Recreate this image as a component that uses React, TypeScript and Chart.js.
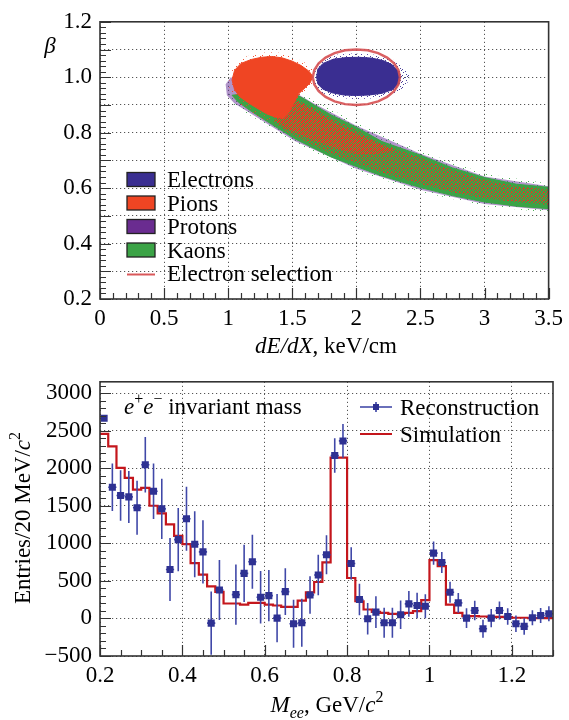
import React, { useEffect, useRef } from 'react';
import { Chart, registerables } from 'chart.js';

Chart.register(...registerables);

// ---------------- Top panel: beta vs dE/dX ----------------
const TOP_X_TICKS = [0, 0.5, 1, 1.5, 2, 2.5, 3, 3.5];
const TOP_X_LABELS = ['0', '0.5', '1', '1.5', '2', '2.5', '3', '3.5'];
const TOP_Y_TICKS = [0.2, 0.3, 0.4, 0.5, 0.6, 0.7, 0.8, 0.9, 1.0, 1.1, 1.2];
const TOP_Y_LABELS = ['0.2', '', '0.4', '', '0.6', '', '0.8', '', '1.0', '', '1.2'];

// outlines of the particle clouds (dE/dX, beta)
const ELECTRON_CORE = [
  [1.69, 1.0], [1.7, 1.03], [1.74, 1.05], [1.82, 1.065], [1.92, 1.071], [2.02, 1.072], [2.12, 1.069],
  [2.21, 1.06], [2.28, 1.045], [2.33, 1.02], [2.34, 1.0], [2.33, 0.975], [2.28, 0.955], [2.2, 0.942],
  [2.1, 0.936], [2.0, 0.934], [1.9, 0.936], [1.81, 0.944], [1.74, 0.957], [1.7, 0.975], [1.69, 1.0],
];
const ELECTRON_HALO = [
  [1.67, 1.0], [1.69, 1.045], [1.78, 1.078], [1.95, 1.086], [2.12, 1.083], [2.28, 1.065], [2.37, 1.035],
  [2.42, 1.005], [2.39, 0.97], [2.3, 0.94], [2.15, 0.924], [2.0, 0.921], [1.85, 0.926], [1.73, 0.943],
  [1.67, 0.97], [1.67, 1.0],
];
const PION_BLOB = [
  [1.03, 0.99], [1.05, 1.025], [1.1, 1.05], [1.18, 1.064], [1.26, 1.072], [1.34, 1.075], [1.42, 1.07],
  [1.5, 1.058], [1.57, 1.042], [1.63, 1.022], [1.66, 1.003], [1.64, 0.98], [1.6, 0.962], [1.55, 0.94],
  [1.51, 0.905], [1.47, 0.87], [1.43, 0.852], [1.37, 0.856], [1.3, 0.868], [1.22, 0.89], [1.15, 0.91],
  [1.09, 0.93], [1.05, 0.955], [1.03, 0.99],
];
const PION_HALO = [
  [1.01, 0.99], [1.04, 1.04], [1.12, 1.072], [1.25, 1.088], [1.38, 1.09], [1.5, 1.075], [1.6, 1.052],
  [1.68, 1.02], [1.69, 0.99], [1.62, 0.955], [1.5, 0.9], [1.3, 0.84], [1.1, 0.9], [1.01, 0.95], [1.01, 0.99],
];
const PION_BAND_CORE = [
  [1.4, 0.93], [1.55, 0.91], [1.7, 0.87], [1.85, 0.83], [2.0, 0.795], [2.15, 0.765], [2.3, 0.735],
  [2.15, 0.722], [2.0, 0.722], [1.85, 0.742], [1.65, 0.775], [1.45, 0.815], [1.38, 0.84], [1.4, 0.93],
];
const PION_BAND = [
  [1.4, 0.93], [1.55, 0.915], [1.67, 0.89], [1.8, 0.855], [2.0, 0.81], [2.2, 0.76], [2.5, 0.71],
  [2.75, 0.665], [3.0, 0.63], [3.25, 0.607], [3.5, 0.595], [3.5, 0.54], [3.25, 0.55], [3.0, 0.563],
  [2.75, 0.585], [2.5, 0.615], [2.2, 0.655], [2.0, 0.69], [1.8, 0.725], [1.6, 0.77], [1.45, 0.805],
  [1.35, 0.84], [1.4, 0.93],
];
const KAON_BAND = [
  [1.03, 0.935], [1.3, 0.95], [1.5, 0.945], [1.6, 0.92], [1.67, 0.9], [1.8, 0.865], [2.0, 0.82],
  [2.2, 0.768], [2.5, 0.719], [2.75, 0.673], [3.0, 0.638], [3.25, 0.614], [3.5, 0.603], [3.5, 0.526],
  [3.25, 0.535], [3.0, 0.55], [2.75, 0.573], [2.5, 0.602], [2.2, 0.644], [2.0, 0.678], [1.8, 0.713],
  [1.52, 0.778], [1.34, 0.83], [1.18, 0.877], [1.08, 0.91], [1.03, 0.935],
];
const KAON_HALO = [
  [1.0, 0.945], [1.3, 0.965], [1.52, 0.96], [1.68, 0.915], [2.0, 0.835], [2.5, 0.734], [3.0, 0.652],
  [3.5, 0.617], [3.5, 0.512], [3.0, 0.535], [2.5, 0.587], [2.0, 0.662], [1.52, 0.762], [1.18, 0.86],
  [1.05, 0.895], [1.0, 0.945],
];
const PROTON_BAND = [
  [0.98, 0.975], [1.02, 1.0], [1.3, 0.95], [1.5, 0.95], [1.67, 0.905], [2.0, 0.825], [2.5, 0.724],
  [3.0, 0.642], [3.5, 0.607], [3.5, 0.52], [3.0, 0.543], [2.5, 0.594], [2.0, 0.67], [1.52, 0.77],
  [1.18, 0.868], [1.05, 0.905], [0.99, 0.935], [0.98, 0.975],
];
const SELECTION_ELLIPSE = [
  [2.34, 1.0], [2.328, 1.026], [2.294, 1.05], [2.24, 1.071], [2.17, 1.087], [2.088, 1.097], [2.0, 1.1],
  [1.912, 1.097], [1.83, 1.087], [1.76, 1.071], [1.706, 1.05], [1.672, 1.026], [1.66, 1.0],
  [1.672, 0.974], [1.706, 0.95], [1.76, 0.929], [1.83, 0.913], [1.912, 0.903], [2.0, 0.9],
  [2.088, 0.903], [2.17, 0.913], [2.24, 0.929], [2.294, 0.95], [2.328, 0.974], [2.34, 1.0],
];
const TOP_LEGEND = ['Electrons', 'Pions', 'Protons', 'Kaons', 'Electron selection'];
const TOP_LEGEND_COLORS = ['#3a2e91', '#ef4523', '#6a2c90', '#3ba346', '#d9585a'];

// ---------------- Bottom panel: e+e- invariant mass ----------------
const BOT_X_TICKS = [0.2, 0.4, 0.6, 0.8, 1.0, 1.2];
const BOT_X_LABELS = ['0.2', '0.4', '0.6', '0.8', '1', '1.2'];
const BOT_Y_TICKS = [-500, 0, 500, 1000, 1500, 2000, 2500, 3000];
const BOT_Y_LABELS = ['\u2212500', '0', '500', '1000', '1500', '2000', '2500', '3000'];

const RECO_X = [
  0.21, 0.23, 0.25, 0.27, 0.29, 0.31, 0.33, 0.35, 0.37, 0.39, 0.41, 0.43, 0.45, 0.47, 0.49, 0.51,
  0.53, 0.55, 0.57, 0.59, 0.61, 0.63, 0.65, 0.67, 0.69, 0.71, 0.73, 0.75, 0.77, 0.79, 0.81, 0.83,
  0.85, 0.87, 0.89, 0.91, 0.93, 0.95, 0.97, 0.99, 1.01, 1.03, 1.05, 1.07, 1.09, 1.11, 1.13, 1.15,
  1.17, 1.19, 1.21, 1.23, 1.25, 1.27, 1.29,
];
const RECO_Y = [
  2665, 1746, 1636, 1618, 1473, 2046, 1693, 1459, 652, 1049, 1327, 988, 886, -62, 379, null,
  317, 600, 754, 282, 304, 4, 357, -70, -57, 313, 578, 847, 2169, 2363, 732, 251,
  -4, 84, -57, -57, 48, 194, 172, 163, 869, 745, 348, 207, 4, 106, -137, 4,
  106, 26, -70, -106, 9, 40, 62,
];
const RECO_ERR = [
  0, 315, 335, 346, 360, 370, 370, 400, 420, 420, 425, 440, 420, 420, 400, 0,
  400, 380, 360, 350, 340, 320, 310, 320, 320, 250, 270, 260, 230, 225, 215, 210,
  210, 210, 200, 200, 190, 170, 170, 160, 155, 140, 140, 130, 130, 130, 120, 120,
  120, 110, 110, 110, 100, 100, 100,
];
const SIM_EDGES = [
  0.2, 0.22, 0.24, 0.26, 0.28, 0.3, 0.32, 0.34, 0.36, 0.38, 0.4, 0.42, 0.44, 0.46, 0.48, 0.5,
  0.52, 0.54, 0.56, 0.58, 0.6, 0.62, 0.64, 0.66, 0.68, 0.7, 0.72, 0.74, 0.76, 0.78, 0.8, 0.82,
  0.84, 0.86, 0.88, 0.9, 0.92, 0.94, 0.96, 0.98, 1.0, 1.02, 1.04, 1.06, 1.08, 1.1, 1.12, 1.14,
  1.16, 1.18, 1.2, 1.22, 1.24, 1.26, 1.28, 1.3,
];
const SIM_Y = [
  2457, 2290, 2003, 1870, 1716, 1738, 1500, 1398, 1253, 1098, 988, 737, 582, 428, 353,
  199, 199, 185, 207, 207, 185, 172, 154, 154, 238, 348, 485, 746, 2140, 2140,
  538, 229, 119, 88, 75, 62, 62, 75, 97, 243, 776, 697, 185, 75, 31,
  31, 26, 22, 22, 18, 9, 9, 4, 4, 4,
];

// ---------------- helpers ----------------
const FONT = '"Liberation Serif", "DejaVu Serif", "Times New Roman", serif';
const FS = 23;
const INK = '#000';

type Part = { t: string; it?: boolean; sz?: number; dy?: number };
function drawRich(ctx: CanvasRenderingContext2D, parts: Part[], x: number, y: number, align: 'left' | 'center' | 'right') {
  ctx.save();
  ctx.textBaseline = 'alphabetic';
  ctx.textAlign = 'left';
  ctx.fillStyle = INK;
  const font = (p: Part) => `${p.it ? 'italic ' : ''}${p.sz ?? FS}px ${FONT}`;
  let w = 0;
  for (const p of parts) { ctx.font = font(p); w += ctx.measureText(p.t).width; }
  let cx = align === 'center' ? x - w / 2 : align === 'right' ? x - w : x;
  for (const p of parts) {
    ctx.font = font(p);
    ctx.fillText(p.t, cx, y + (p.dy ?? 0));
    cx += ctx.measureText(p.t).width;
  }
  ctx.restore();
}

// stippled fill to imitate the speckled point clouds (fixed hand-made tiles)
function stipple(color: string, size: number, cells: number[][]) {
  const c = document.createElement('canvas');
  c.width = size; c.height = size;
  const g = c.getContext('2d')!;
  g.fillStyle = color;
  cells.forEach(([x, y]) => g.fillRect(x, y, 1, 1));
  return g.createPattern(c, 'repeat')!;
}
const TILE_HALF = [[0, 0], [2, 0], [1, 1], [3, 1], [0, 2], [2, 2], [1, 3], [3, 3]];
const TILE_QUARTER = [[0, 0], [2, 1], [1, 2], [3, 3], [3, 0]];
const TILE_SPARSE = [[1, 0], [4, 2], [0, 3], [3, 5], [5, 4]];
const TILE_THIN = [[1, 0], [5, 3], [3, 6]];

const pts = (arr: number[][]) => arr.map(([x, y]) => ({ x, y }));

function poly(label: string, arr: number[][], color: any, order: number, border = true) {
  return {
    type: 'line' as const,
    label,
    data: pts(arr),
    backgroundColor: color,
    borderColor: border ? color : 'rgba(0,0,0,0)',
    borderWidth: border ? 1 : 0.01,
    pointRadius: 0,
    tension: 0,
    fill: 'shape',
    order,
  };
}

// frame + inward ticks
function frameTicks(xMinor: number[], xMajor: number[], yMinor: number[], yMajor: number[], majLen: number, minLen: number) {
  return {
    id: 'frameTicks',
    afterDatasetsDraw(chart: any) {
      const { ctx, chartArea: a, scales } = chart;
      ctx.save();
      ctx.strokeStyle = '#333';
      ctx.lineWidth = 1.2;
      ctx.beginPath();
      const xs = scales.x, ys = scales.y;
      const tx = (v: number, L: number) => { const p = Math.round(xs.getPixelForValue(v)) + 0.5; ctx.moveTo(p, a.bottom); ctx.lineTo(p, a.bottom - L); };
      const ty = (v: number, L: number) => { const p = Math.round(ys.getPixelForValue(v)) + 0.5; ctx.moveTo(a.left, p); ctx.lineTo(a.left + L, p); };
      xMinor.forEach((v) => tx(v, minLen));
      xMajor.forEach((v) => tx(v, majLen));
      yMinor.forEach((v) => ty(v, minLen));
      yMajor.forEach((v) => ty(v, majLen));
      ctx.stroke();
      ctx.lineWidth = 1.6;
      ctx.strokeRect(a.left, a.top, a.right - a.left, a.bottom - a.top);
      ctx.restore();
    },
  };
}

function range(a: number, b: number, step: number) {
  const out: number[] = [];
  const n = Math.round((b - a) / step);
  for (let i = 0; i <= n; i++) out.push(+(a + i * step).toFixed(6));
  return out;
}

function axisOpts(min: number, max: number, ticks: number[], labels: string[], padding: number) {
  return {
    type: 'linear' as const,
    min,
    max,
    afterBuildTicks: (s: any) => { s.ticks = ticks.map((v) => ({ value: v })); },
    ticks: {
      callback: (_v: any, i: number) => labels[i],
      font: { family: FONT, size: FS },
      color: INK,
      padding,
      autoSkip: false,
      maxRotation: 0,
    },
    grid: { color: '#555', lineWidth: 1, drawTicks: false },
    border: { display: false, dash: [1.2, 2.8] },
  };
}

function TopChart() {
  const ref = useRef<HTMLCanvasElement>(null);
  useEffect(() => {
    const overlay = {
      id: 'topText',
      afterDraw(chart: any) {
        const ctx = chart.ctx as CanvasRenderingContext2D;
        drawRich(ctx, [{ t: '\u03b2', it: true }], 50, 53, 'center');
        drawRich(ctx, [{ t: 'dE', it: true }, { t: '/', it: true }, { t: 'dX', it: true }, { t: ', keV/cm' }], 326, 353, 'center');
        // legend
        const rows = [187, 210.5, 234, 257.5, 281];
        ctx.save();
        rows.forEach((b, i) => {
          const cy = b - 7.5;
          if (i < 4) {
            ctx.fillStyle = TOP_LEGEND_COLORS[i];
            ctx.fillRect(127, cy - 7, 28, 14);
            ctx.strokeStyle = '#222';
            ctx.lineWidth = 1.3;
            ctx.strokeRect(127, cy - 7, 28, 14);
          } else {
            ctx.strokeStyle = TOP_LEGEND_COLORS[i];
            ctx.lineWidth = 2;
            ctx.beginPath();
            ctx.moveTo(127, cy + 1);
            ctx.lineTo(155, cy + 1);
            ctx.stroke();
          }
          drawRich(ctx, [{ t: TOP_LEGEND[i] }], 167, b, 'left');
        });
        ctx.restore();
      },
    };
    const redCore = stipple('rgba(226,64,36,1)', 4, TILE_HALF);
    const redMix = stipple('rgba(215,62,38,1)', 4, TILE_QUARTER);
    const redSparse = stipple('rgba(239,69,35,0.9)', 7, TILE_THIN);
    const navySparse = stipple('rgba(58,46,145,0.9)', 6, TILE_SPARSE);
    const greenSparse = stipple('rgba(59,163,70,0.9)', 7, TILE_THIN);
    const chart = new Chart(ref.current!, {
      type: 'line',
      data: {
        datasets: [
          {
            type: 'line',
            label: 'Electron selection',
            data: pts(SELECTION_ELLIPSE),
            borderColor: 'rgba(214,80,82,0.9)',
            borderWidth: 2.5,
            pointRadius: 0,
            tension: 0,
            fill: false,
            order: 1,
          } as any,
          poly('Electrons', ELECTRON_CORE, '#3a2e91', 2),
          poly('Electrons halo', ELECTRON_HALO, navySparse, 3, false),
          poly('Pions', PION_BLOB, '#ef4523', 4),
          poly('Pions halo', PION_HALO, redSparse, 5, false),
          poly('Pions band core', PION_BAND_CORE, redCore, 6, false),
          poly('Pions band', PION_BAND, redMix, 7, false),
          poly('Kaons', KAON_BAND, '#3ba346', 8),
          poly('Protons', PROTON_BAND, 'rgba(100,44,150,0.5)', 9, false),
          poly('Kaons halo', KAON_HALO, greenSparse, 10, false),
        ] as any,
      },
      options: {
        responsive: false,
        animation: false,
        devicePixelRatio: 1,
        events: [],
        layout: { padding: { left: 0, right: 16, top: 14, bottom: 0 } },
        plugins: { legend: { display: false }, tooltip: { enabled: false } },
        scales: {
          x: { ...axisOpts(0, 3.5, TOP_X_TICKS, TOP_X_LABELS, 6), afterFit: (s: any) => { s.height = 61; } },
          y: { ...axisOpts(0.2, 1.2, TOP_Y_TICKS, TOP_Y_LABELS, 8), afterFit: (s: any) => { s.width = 100; } },
        } as any,
      },
      plugins: [
        frameTicks(range(0, 3.5, 0.1), range(0, 3.5, 0.5), range(0.2, 1.2, 0.02), range(0.2, 1.2, 0.1), 11, 6),
        overlay,
      ],
    });
    return () => chart.destroy();
  }, []);
  return <canvas ref={ref} width={569} height={360} style={{ position: 'absolute', left: 0, top: 0, width: 569, height: 360 }} />;
}

function BottomChart() {
  const ref = useRef<HTMLCanvasElement>(null);
  useEffect(() => {
    const errBars = {
      id: 'errBars',
      beforeDatasetDraw(chart: any, args: any) {
        if (args.index !== 0) return;
        const { ctx, chartArea: a, scales } = chart;
        const xs = scales.x, ys = scales.y;
        ctx.save();
        ctx.beginPath();
        ctx.rect(a.left, a.top, a.right - a.left, a.bottom - a.top);
        ctx.clip();
        ctx.strokeStyle = '#4048a8';
        ctx.lineWidth = 1.6;
        ctx.beginPath();
        RECO_X.forEach((x, i) => {
          const y = RECO_Y[i];
          const e = RECO_ERR[i];
          if (y === null || e <= 0) return;
          const px = xs.getPixelForValue(x);
          ctx.moveTo(px, ys.getPixelForValue(y + e));
          ctx.lineTo(px, ys.getPixelForValue(y - e));
          const py = ys.getPixelForValue(y);
          ctx.moveTo(xs.getPixelForValue(x - 0.01), py);
          ctx.lineTo(xs.getPixelForValue(x + 0.01), py);
        });
        ctx.stroke();
        ctx.restore();
      },
    };
    const overlay = {
      id: 'botText',
      afterDraw(chart: any) {
        const ctx = chart.ctx as CanvasRenderingContext2D;
        drawRich(ctx, [
          { t: 'e', it: true }, { t: '+', sz: 16, dy: -10 }, { t: 'e', it: true }, { t: '\u2212', sz: 16, dy: -10 },
          { t: ' invariant mass' },
        ], 124, 54, 'left');
        drawRich(ctx, [
          { t: 'M', it: true }, { t: 'ee', it: true, sz: 16, dy: 6 }, { t: ', GeV/' }, { t: 'c', it: true }, { t: '2', sz: 16, dy: -10 },
        ], 327, 352, 'center');
        ctx.save();
        ctx.translate(30, 158);
        ctx.rotate(-Math.PI / 2);
        drawRich(ctx, [{ t: 'Entries/20 MeV/' }, { t: 'c', it: true }, { t: '2', sz: 16, dy: -10 }], 0, 0, 'center');
        ctx.restore();
        // legend
        ctx.save();
        ctx.strokeStyle = '#3a42a4';
        ctx.lineWidth = 1.6;
        ctx.beginPath();
        ctx.moveTo(360, 47); ctx.lineTo(392, 47);
        ctx.moveTo(376, 42); ctx.lineTo(376, 52);
        ctx.stroke();
        ctx.fillStyle = '#2e3192';
        ctx.fillRect(373, 44, 6, 6);
        ctx.strokeStyle = '#c4161c';
        ctx.lineWidth = 2;
        ctx.beginPath();
        ctx.moveTo(360, 74); ctx.lineTo(392, 74);
        ctx.stroke();
        ctx.restore();
        drawRich(ctx, [{ t: 'Reconstruction' }], 400, 55, 'left');
        drawRich(ctx, [{ t: 'Simulation' }], 400, 82, 'left');
      },
    };
    const recoData = RECO_X.map((x, i) => ({ x, y: RECO_Y[i] }));
    const simData = SIM_EDGES.map((x, i) => ({ x, y: SIM_Y[Math.min(i, SIM_Y.length - 1)] }));
    const chart = new Chart(ref.current!, {
      type: 'line',
      data: {
        datasets: [
          {
            label: 'Reconstruction',
            data: recoData,
            showLine: false,
            pointStyle: 'rect',
            pointRadius: 5,
            pointBackgroundColor: '#2e3192',
            pointBorderColor: '#2e3192',
            pointBorderWidth: 0,
            order: 1,
          },
          {
            label: 'Simulation',
            data: simData,
            stepped: 'before',
            borderColor: '#c4161c',
            borderWidth: 2.2,
            pointRadius: 0,
            fill: false,
            order: 2,
          },
        ] as any,
      },
      options: {
        responsive: false,
        animation: false,
        devicePixelRatio: 1,
        events: [],
        spanGaps: false,
        layout: { padding: { left: 0, right: 16, top: 20, bottom: 0 } },
        plugins: { legend: { display: false }, tooltip: { enabled: false } },
        scales: {
          x: { ...axisOpts(0.2, 1.3, BOT_X_TICKS, BOT_X_LABELS, 6), afterFit: (s: any) => { s.height = 64; } },
          y: { ...axisOpts(-500, 3150, BOT_Y_TICKS, BOT_Y_LABELS, 8), afterFit: (s: any) => { s.width = 100; } },
        } as any,
      },
      plugins: [
        errBars,
        frameTicks(range(0.2, 1.3, 0.05), range(0.2, 1.2, 0.2), range(-500, 3100, 100), range(-500, 3000, 500), 11, 6),
        overlay,
      ],
    });
    return () => chart.destroy();
  }, []);
  return <canvas ref={ref} width={569} height={360} style={{ position: 'absolute', left: 0, top: 360, width: 569, height: 360 }} />;
}

export default function App() {
  useEffect(() => {
    document.body.style.margin = '0';
    document.body.style.background = '#ffffff';
  }, []);
  return (
    <div style={{ position: 'relative', width: 569, height: 720, background: '#fff', overflow: 'hidden' }}>
      <TopChart />
      <BottomChart />
    </div>
  );
}
